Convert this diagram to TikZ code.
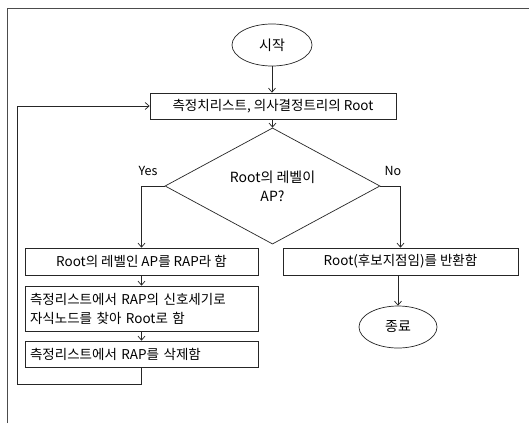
\documentclass[tikz,border=0pt]{standalone}
\usepackage{fontspec}
\setmainfont{Noto Sans CJK KR}
\usetikzlibrary{shapes.geometric,arrows.meta}
\tikzset{
  ln/.style={draw=black!85,line width=0.7pt},
  arr/.style={ln,-{Straight Barb[length=4pt,width=7pt]}},
  boxnode/.style={ln,rectangle,inner sep=0pt,align=center,font=\fontsize{13.5}{19}\selectfont},
  leftbox/.style={boxnode,align=left,inner xsep=5pt},
  term/.style={ln,ellipse,inner sep=0pt,font=\fontsize{14}{16}\selectfont},
  decision/.style={ln,diamond,inner sep=0pt,align=center,font=\fontsize{14}{19}\selectfont},
  lbl/.style={font=\fontsize{12.5}{14}\selectfont,inner sep=0pt}
}
\begin{document}
\begin{tikzpicture}[x=1pt,y=-1pt]
\useasboundingbox (0,0) rectangle (529,423);
\fill[white] (0,0) rectangle (529,423);
% frame
\coordinate (fbl) at (7,423);
\coordinate (ftl) at (7,8);
\coordinate (ftr) at (529,8);
\draw[ln,draw=black!70] (fbl) -- (ftl) -- (ftr);

\node[term,minimum width=80pt,minimum height=42pt] (start) at (272,45) {시작};
\node[boxnode,minimum width=246pt,minimum height=26pt] (b1) at (273,106) {측정치리스트, 의사결정트리의 Root};
\node[decision,minimum width=215pt,minimum height=68pt] (dia) at (272.5,186) {Root의 레벨이\\AP?};
\node[boxnode,minimum width=233pt,minimum height=27pt] (l1) at (141.5,261.5) {Root의 레벨인 AP를 RAP라 함};
\node[boxnode,minimum width=235pt,minimum height=27pt] (r1) at (400.5,261.5) {Root(후보지점임)를 반환함};
\node[leftbox,text width=223pt,minimum height=45pt] (l2) at (141.5,308.5) {측정리스트에서 RAP의 신호세기로\\자식노드를 찾아 Root로 함};
\node[leftbox,text width=223pt,minimum height=26pt] (l3) at (141.5,354) {측정리스트에서 RAP를 삭제함};
\node[term,minimum width=78pt,minimum height=42pt] (end) at (398,327) {종료};

\node[lbl] (yes) at (148,171) {Yes};
\node[lbl] (no) at (393,171) {No};

\draw[arr] (start) -- (start |- b1.north);
\draw[arr] (b1.south -| dia.north) -- (dia.north);
\draw[arr] (dia.west) -| (l1.north);
\draw[arr] (dia.east) -| (r1.north);
\draw[arr] (l1) -- (l2);
\draw[arr] (l2) -- (l3);
\draw[arr] (r1.south -| end.north) -- (end.north);
\coordinate (lp) at (17,384);
\draw[arr] (l3.south) |- (lp) |- (b1.west);
\end{tikzpicture}
\end{document}
